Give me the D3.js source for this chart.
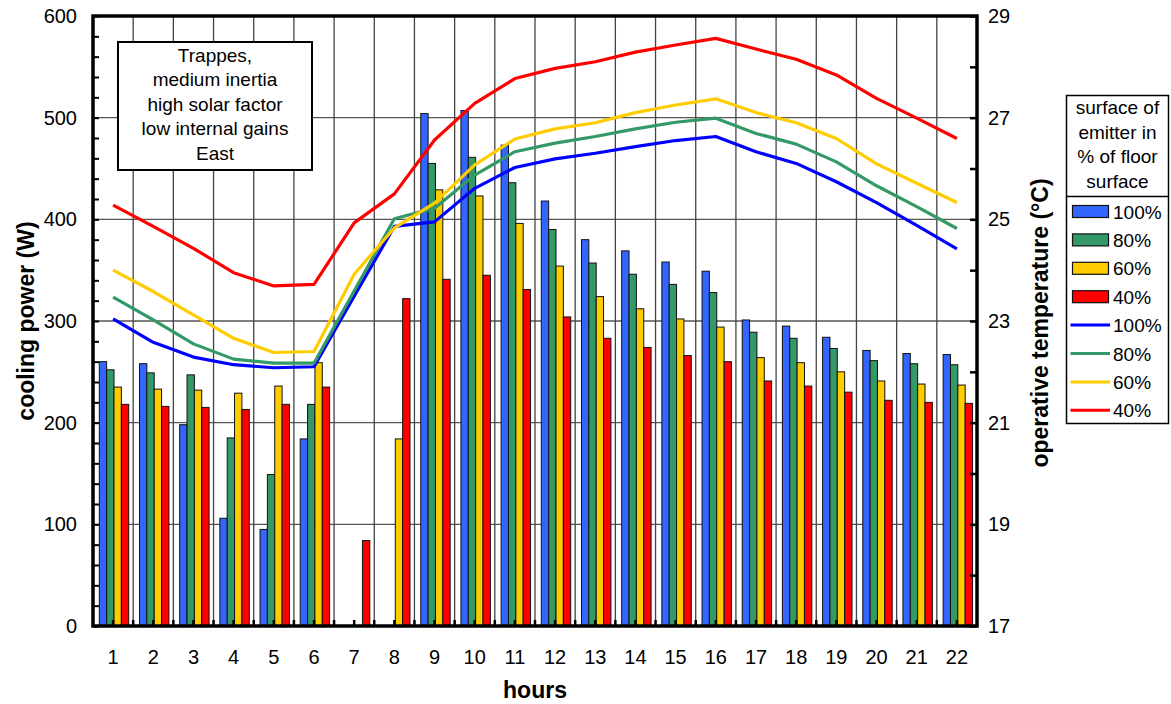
<!DOCTYPE html>
<html>
<head>
<meta charset="utf-8">
<script src="https://cdn.jsdelivr.net/npm/d3@7/dist/d3.min.js"></script>
<style>
html,body{margin:0;padding:0;background:#fff;}
svg{display:block;font-family:"Liberation Sans",Arial,sans-serif;}
</style>
</head>
<body>
<svg id="chart" width="1171" height="704"></svg>
<script>
const hours = [1,2,3,4,5,6,7,8,9,10,11,12,13,14,15,16,17,18,19,20,21,22];
const seriesNames = ["100%","80%","60%","40%"];
const power100 = [260,258,198,106,95,184,0,0,504,507,473,418,380,369,358,349,301,295,284,271,268,267];
const power80  = [252,249,247,185,149,218,0,0,455,461,436,390,357,346,336,328,289,283,273,261,258,257];
const power60  = [235,233,232,229,236,259,0,184,429,423,396,354,324,312,302,294,264,259,250,241,238,237];
const power40  = [218,216,215,213,218,235,84,322,341,345,331,304,283,274,266,260,241,236,230,222,220,219];
const temp100 = [23.04,22.58,22.29,22.14,22.08,22.10,23.49,24.86,24.95,25.61,26.02,26.19,26.30,26.43,26.55,26.63,26.33,26.10,25.74,25.33,24.88,24.42];
const temp80  = [23.47,23.02,22.55,22.25,22.17,22.17,23.59,25.01,25.22,25.87,26.33,26.50,26.63,26.78,26.91,26.99,26.69,26.48,26.13,25.66,25.25,24.82];
const temp60  = [24.00,23.58,23.12,22.66,22.38,22.40,23.92,24.83,25.32,26.07,26.58,26.78,26.90,27.10,27.25,27.37,27.10,26.90,26.59,26.09,25.71,25.33];
const temp40  = [25.28,24.86,24.43,23.95,23.69,23.72,24.93,25.50,26.56,27.28,27.77,27.97,28.10,28.29,28.43,28.56,28.35,28.15,27.84,27.38,26.99,26.59];
const powerTicks = [0,100,200,300,400,500,600];
const tempTicks = [17,19,21,23,25,27,29];
const annotation = ["Trappes,","medium inertia","high solar factor","low internal gains","East"];
const legendTitle = ["surface of","emitter in","% of floor","surface"];

const barColors = ["#3366ff","#339966","#ffcc00","#ff0000"];
const lineColors = ["#0000ff","#339966","#ffcc00","#ff0000"];
const powers = [power100,power80,power60,power40];
const temps = [temp100,temp80,temp60,temp40];

const svg = d3.select("#chart");
const L = 93, R = 977, T = 16, B = 626;

const x = d3.scaleBand().domain(hours).range([L, R]).paddingInner(0).paddingOuter(0);
const bw = x.bandwidth();
const x1 = d3.scaleBand().domain(seriesNames).range([bw*0.157, bw*0.889]);
const y = d3.scaleLinear().domain([0,600]).range([B, T]);
const yT = d3.scaleLinear().domain([17,29]).range([B, T]);

const g = svg.append("g");

// horizontal gridlines
g.append("g").selectAll("line").data(powerTicks.slice(1,-1)).join("line")
  .attr("x1", L).attr("x2", R).attr("y1", d=>y(d)).attr("y2", d=>y(d))
  .attr("stroke", "#555").attr("stroke-width", 1.3);
// vertical gridlines
g.append("g").selectAll("line").data(hours.slice(1)).join("line")
  .attr("x1", d=>x(d)).attr("x2", d=>x(d)).attr("y1", T).attr("y2", B)
  .attr("stroke", "#444").attr("stroke-width", 1.3);

// annotation box
const ann = g.append("g");
ann.append("rect").attr("x",118).attr("y",42).attr("width",194).attr("height",128)
  .attr("fill","#fff").attr("stroke","#000").attr("stroke-width",2);
ann.selectAll("text").data(annotation).join("text")
  .attr("x",215).attr("y",(d,i)=>62+i*24.4).attr("text-anchor","middle")
  .attr("font-size",19).attr("fill","#000").text(d=>d);

// bars
seriesNames.forEach((s,si)=>{
  g.append("g").selectAll("rect").data(hours.map((h,i)=>({h, v:powers[si][i]})).filter(d=>d.v>0)).join("rect")
    .attr("x", d=>x(d.h)+x1(s)).attr("width", x1.bandwidth())
    .attr("y", d=>y(d.v)).attr("height", d=>y(0)-y(d.v))
    .attr("fill", barColors[si]).attr("stroke","#111").attr("stroke-width",1);
});

// lines
const line = d3.line().x((d,i)=>x(hours[i])+bw/2).y(d=>yT(d));
temps.forEach((t,si)=>{
  g.append("path").datum(t).attr("d", line).attr("fill","none")
    .attr("stroke", lineColors[si]).attr("stroke-width",3.2).attr("stroke-linejoin","round");
});

// axes
const leftAxis = d3.axisLeft(y).tickValues(d3.range(0,601,20)).tickSize(-6).tickFormat("");
const la = svg.append("g").attr("transform",`translate(${L},0)`).call(leftAxis);
la.select(".domain").remove();
la.selectAll("line").attr("stroke","#000").attr("stroke-width",2);
svg.append("g").selectAll("text").data(powerTicks).join("text")
  .attr("x",77).attr("y",d=>y(d)+7).attr("text-anchor","end").attr("font-size",20).text(d=>d);

const rightAxis = d3.axisRight(yT).tickValues(d3.range(17,30,1)).tickSize(-7).tickFormat("");
const ra = svg.append("g").attr("transform",`translate(${R},0)`).call(rightAxis);
ra.select(".domain").remove();
ra.selectAll("line").attr("stroke","#000").attr("stroke-width",2.5);
svg.append("g").selectAll("text").data(tempTicks).join("text")
  .attr("x",988).attr("y",d=>yT(d)+7).attr("text-anchor","start").attr("font-size",20).text(d=>d);

// bottom ticks at boundaries and centers
const bticks = [];
hours.forEach(h=>{ bticks.push(x(h)); bticks.push(x(h)+bw/2); });
svg.append("g").selectAll("line").data(bticks.slice(1)).join("line")
  .attr("x1",d=>d).attr("x2",d=>d).attr("y1",B).attr("y2",B-6)
  .attr("stroke","#000").attr("stroke-width",2.5);
svg.append("g").selectAll("text").data(hours).join("text")
  .attr("x",d=>x(d)+bw/2).attr("y",664).attr("text-anchor","middle").attr("font-size",20).text(d=>d);

// frame
svg.append("rect").attr("x",L).attr("y",T).attr("width",R-L).attr("height",B-T)
  .attr("fill","none").attr("stroke","#000").attr("stroke-width",3.5);

// axis titles
svg.append("text").attr("transform",`translate(34,${(T+B)/2}) rotate(-90)`)
  .attr("text-anchor","middle").attr("font-size",23).attr("font-weight","bold").text("cooling power (W)");
svg.append("text").attr("transform",`translate(1048,${(T+B)/2 + 2}) rotate(-90)`)
  .attr("text-anchor","middle").attr("font-size",23).attr("font-weight","bold").text("operative temperature (°C)");
svg.append("text").attr("x",535).attr("y",698).attr("text-anchor","middle")
  .attr("font-size",23).attr("font-weight","bold").text("hours");

// legend
const lg = svg.append("g");
lg.append("rect").attr("x",1066.5).attr("y",95.5).attr("width",102).attr("height",328)
  .attr("fill","#fff").attr("stroke","#000").attr("stroke-width",1.5);
lg.append("line").attr("x1",1066.5).attr("x2",1168.5).attr("y1",196.5).attr("y2",196.5)
  .attr("stroke","#000").attr("stroke-width",1.5);
lg.selectAll("text.t").data(legendTitle).join("text").attr("class","t")
  .attr("x",1117.5).attr("y",(d,i)=>114+i*24.5).attr("text-anchor","middle")
  .attr("font-size",19).text(d=>d);
const rowY = i => 211.5 + i*28.4;
seriesNames.forEach((s,i)=>{
  lg.append("rect").attr("x",1072.5).attr("y",rowY(i)-6).attr("width",36).attr("height",12)
    .attr("fill",barColors[i]).attr("stroke","#111").attr("stroke-width",1.2);
  lg.append("text").attr("x",1113).attr("y",rowY(i)+7).attr("font-size",19).text(s);
});
seriesNames.forEach((s,i)=>{
  const yy = rowY(i+4);
  lg.append("line").attr("x1",1070.5).attr("x2",1110).attr("y1",yy).attr("y2",yy)
    .attr("stroke",lineColors[i]).attr("stroke-width",3);
  lg.append("text").attr("x",1113).attr("y",yy+7).attr("font-size",19).text(s);
});
</script>
</body>
</html>
